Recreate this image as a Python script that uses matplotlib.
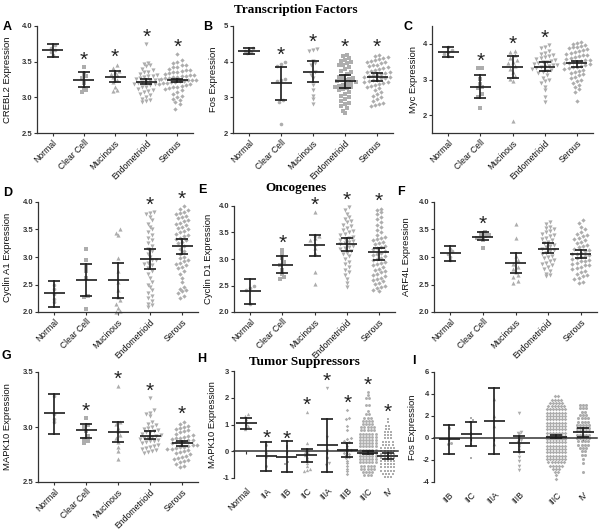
import numpy as np
import matplotlib
matplotlib.use("Agg")
import matplotlib.pyplot as plt
import matplotlib.transforms as mtrans

plt.rcParams['font.family'] = ['Liberation Sans', 'DejaVu Sans']

# ---------------- categories ----------------
histotypes = ["Normal", "Clear Cell", "Mucinous", "Endometrioid", "Serous"]
stages_h = ["Normal", "IIA", "IIB", "IIC", "IIIA", "IIIB", "IIIC", "IV"]
stages_i = ["IIB", "IIC", "IIIA", "IIIB", "IIIC", "IV"]

# ---------------- Panel A: CREBL2 ----------------
crebl2_normal = [3.73, 3.69, 3.66, 3.63, 3.59]
crebl2_clear = [3.42, 3.33, 3.30, 3.27, 3.20, 3.12, 3.10, 3.08]
crebl2_muc = [3.46, 3.41, 3.37, 3.35, 3.33, 3.31, 3.28, 3.25, 3.22, 3.15, 3.10, 3.09]
crebl2_endo = [3.75, 3.48, 3.47, 3.45, 3.44, 3.40, 3.38, 3.36, 3.35, 3.33, 3.32, 3.30, 3.30,
               3.28, 3.27, 3.26, 3.25, 3.24, 3.23, 3.22, 3.21, 3.20, 3.19, 3.18, 3.17, 3.15,
               3.14, 3.12, 3.10, 3.09, 3.07, 3.05, 3.03, 3.01, 2.98, 2.96, 2.95, 2.93]
crebl2_serous = [3.61, 3.52, 3.50, 3.48, 3.46, 3.45, 3.43, 3.42, 3.40, 3.39, 3.38, 3.37, 3.36,
                 3.35, 3.34, 3.33, 3.32, 3.31, 3.30, 3.30, 3.29, 3.28, 3.27, 3.27, 3.26, 3.25,
                 3.25, 3.24, 3.23, 3.23, 3.22, 3.21, 3.20, 3.20, 3.19, 3.18, 3.17, 3.16, 3.15,
                 3.14, 3.13, 3.12, 3.10, 3.08, 3.05, 3.02, 3.00, 2.98, 2.96, 2.93, 2.90, 2.84]
crebl2_mean = [3.66, 3.25, 3.29, 3.22, 3.24]
crebl2_lo = [3.57, 3.15, 3.22, 3.18, 3.21]
crebl2_hi = [3.75, 3.35, 3.37, 3.26, 3.26]
crebl2_sig = [0, 1, 1, 1, 1]

# ---------------- Panel B: Fos ----------------
fos_normal = [4.38, 4.34, 4.30, 4.27, 4.24]
fos_clear = [3.98, 3.93, 3.87, 3.52, 3.48, 3.45, 2.92, 2.88, 2.25]
fos_muc = [4.36, 4.34, 4.30, 4.02, 3.97, 3.90, 3.70, 3.62, 3.55, 3.35, 3.20, 3.05, 2.95, 2.80]
fos_endo = [4.20, 4.15, 4.10, 4.05, 4.02, 3.98, 3.95, 3.92, 3.90, 3.85, 3.80, 3.75, 3.70, 3.65,
            3.60, 3.58, 3.55, 3.52, 3.50, 3.48, 3.45, 3.42, 3.40, 3.38, 3.35, 3.32, 3.30, 3.28,
            3.25, 3.22, 3.20, 3.15, 3.10, 3.05, 3.00, 2.95, 2.90, 2.85, 2.80, 2.75, 2.70, 2.62, 2.55]
fos_serous = [4.20, 4.15, 4.12, 4.10, 4.08, 4.05, 4.02, 4.00, 3.98, 3.95, 3.92, 3.90, 3.88, 3.85,
              3.82, 3.80, 3.78, 3.75, 3.72, 3.70, 3.68, 3.66, 3.64, 3.62, 3.60, 3.58, 3.56, 3.55,
              3.53, 3.50, 3.48, 3.46, 3.44, 3.42, 3.40, 3.38, 3.35, 3.32, 3.30, 3.25, 3.20, 3.15,
              3.10, 3.05, 3.00, 2.95, 2.90, 2.85, 2.80, 2.78, 2.75]
fos_mean = [4.30, 3.41, 3.72, 3.46, 3.58]
fos_lo = [4.22, 2.92, 3.43, 3.27, 3.45]
fos_hi = [4.39, 3.85, 4.02, 3.62, 3.68]
fos_sig = [0, 1, 1, 1, 1]

# ---------------- Panel C: Myc ----------------
myc_normal = [3.90, 3.84, 3.78, 3.72, 3.66]
myc_clear = [3.33, 3.31, 3.02, 2.88, 2.80, 2.75, 2.58, 2.52, 2.20]
myc_muc = [3.80, 3.76, 3.70, 3.60, 3.56, 3.50, 3.45, 3.38, 3.30, 3.20, 3.10, 3.02, 2.95, 1.83]
myc_endo = [3.97, 3.92, 3.88, 3.80, 3.75, 3.72, 3.70, 3.66, 3.62, 3.60, 3.58, 3.55, 3.52, 3.50,
            3.48, 3.46, 3.44, 3.42, 3.40, 3.38, 3.36, 3.34, 3.32, 3.30, 3.28, 3.25, 3.22, 3.18,
            3.12, 3.05, 3.00, 2.95, 2.90, 2.80, 2.70, 2.50, 2.37]
myc_serous = [4.05, 4.02, 4.00, 3.97, 3.95, 3.92, 3.90, 3.88, 3.85, 3.82, 3.80, 3.78, 3.75, 3.72,
              3.70, 3.68, 3.65, 3.62, 3.60, 3.58, 3.56, 3.55, 3.53, 3.50, 3.48, 3.46, 3.45, 3.43,
              3.40, 3.38, 3.36, 3.34, 3.32, 3.30, 3.28, 3.25, 3.22, 3.18, 3.15, 3.12, 3.08, 3.05,
              3.00, 2.95, 2.90, 2.85, 2.80, 2.72, 2.65, 2.40]
myc_mean = [3.77, 2.80, 3.34, 3.36, 3.47]
myc_lo = [3.62, 2.49, 3.03, 3.25, 3.36]
myc_hi = [3.90, 3.12, 3.67, 3.48, 3.53]
myc_sig = [0, 1, 1, 1, 0]

# ---------------- Panel D: Cyclin A1 ----------------
cyca1_normal = [2.50, 2.42, 2.32, 2.24, 2.18]
cyca1_clear = [3.15, 2.95, 2.82, 2.75, 2.62, 2.30, 2.27, 2.05]
cyca1_muc = [3.50, 3.43, 3.40, 2.98, 2.75, 2.55, 2.40, 2.28, 2.22, 2.15, 2.08, 2.02, 2.00]
cyca1_endo = [3.82, 3.80, 3.78, 3.72, 3.68, 3.60, 3.55, 3.50, 3.45, 3.40, 3.35, 3.30, 3.25, 3.20,
              3.15, 3.10, 3.05, 3.00, 2.95, 2.95, 2.90, 2.88, 2.85, 2.80, 2.75, 2.70, 2.62, 2.55,
              2.50, 2.45, 2.40, 2.35, 2.30, 2.25, 2.20, 2.15, 2.12, 2.10]
cyca1_serous = [3.92, 3.88, 3.85, 3.82, 3.80, 3.78, 3.75, 3.72, 3.70, 3.68, 3.65, 3.62, 3.60,
                3.58, 3.55, 3.52, 3.50, 3.48, 3.45, 3.42, 3.40, 3.38, 3.35, 3.32, 3.30, 3.28,
                3.25, 3.20, 3.15, 3.10, 3.05, 3.00, 2.98, 2.95, 2.92, 2.90, 2.88, 2.85, 2.82,
                2.80, 2.75, 2.70, 2.62, 2.55, 2.45, 2.42, 2.40, 2.38, 2.35, 2.30, 2.25]
cyca1_mean = [2.34, 2.59, 2.59, 2.96, 3.20]
cyca1_lo = [2.10, 2.29, 2.26, 2.78, 3.05]
cyca1_hi = [2.56, 2.88, 2.90, 3.14, 3.33]
cyca1_sig = [0, 0, 0, 1, 1]

# ---------------- Panel E: Cyclin D1 ----------------
cycd1_normal = [2.50, 2.46, 2.42, 2.16]
cycd1_clear = [3.17, 3.10, 3.02, 2.95, 2.88, 2.80, 2.72, 2.66, 2.63]
cycd1_muc = [3.88, 3.46, 3.44, 3.40, 3.35, 3.28, 3.20, 3.12, 2.75, 2.52]
cycd1_endo = [3.98, 3.92, 3.85, 3.80, 3.75, 3.72, 3.70, 3.65, 3.62, 3.58, 3.55, 3.52, 3.50, 3.48,
              3.45, 3.42, 3.40, 3.38, 3.36, 3.34, 3.32, 3.30, 3.28, 3.25, 3.22, 3.20, 3.18, 3.15,
              3.12, 3.10, 3.05, 3.00, 2.95, 2.90, 2.85, 2.80, 2.75, 2.70, 2.62, 2.55, 2.48]
cycd1_serous = [3.95, 3.92, 3.88, 3.85, 3.80, 3.75, 3.70, 3.65, 3.60, 3.55, 3.50, 3.45, 3.42,
                3.40, 3.38, 3.35, 3.32, 3.30, 3.28, 3.25, 3.22, 3.20, 3.18, 3.15, 3.12, 3.10,
                3.08, 3.05, 3.02, 3.00, 2.98, 2.95, 2.92, 2.90, 2.88, 2.85, 2.82, 2.80, 2.78,
                2.75, 2.72, 2.70, 2.68, 2.65, 2.62, 2.60, 2.58, 2.55, 2.52, 2.50, 2.48, 2.45,
                2.42, 2.40]
cycd1_mean = [2.40, 2.89, 3.26, 3.28, 3.13]
cycd1_lo = [2.16, 2.74, 3.06, 3.15, 2.99]
cycd1_hi = [2.62, 3.05, 3.46, 3.40, 3.21]
cycd1_sig = [0, 1, 1, 1, 1]

# ---------------- Panel F: ARF4L ----------------
arf4l_normal = [3.15, 3.10, 3.05, 3.00, 2.95]
arf4l_clear = [3.46, 3.43, 3.40, 3.38, 3.36, 3.34, 3.31, 3.16]
arf4l_muc = [3.60, 3.35, 3.02, 2.95, 2.88, 2.82, 2.78, 2.72, 2.68, 2.64, 2.56, 2.52]
arf4l_endo = [3.64, 3.60, 3.55, 3.52, 3.50, 3.48, 3.45, 3.42, 3.40, 3.38, 3.35, 3.32, 3.30, 3.28,
              3.25, 3.22, 3.20, 3.18, 3.15, 3.13, 3.10, 3.08, 3.05, 3.02, 3.00, 2.98, 2.95, 2.92,
              2.90, 2.88, 2.85, 2.82, 2.78, 2.75, 2.70, 2.67, 2.65]
arf4l_serous = [3.68, 3.62, 3.55, 3.50, 3.45, 3.42, 3.40, 3.38, 3.35, 3.32, 3.30, 3.28, 3.25,
                3.22, 3.20, 3.18, 3.15, 3.12, 3.10, 3.08, 3.06, 3.05, 3.03, 3.02, 3.00, 2.98,
                2.96, 2.95, 2.93, 2.92, 2.90, 2.88, 2.86, 2.85, 2.82, 2.80, 2.78, 2.75, 2.72,
                2.70, 2.68, 2.65, 2.62, 2.60, 2.55, 2.52]
arf4l_mean = [3.07, 3.37, 2.90, 3.15, 3.06]
arf4l_lo = [2.93, 3.31, 2.71, 3.07, 2.99]
arf4l_hi = [3.20, 3.45, 3.08, 3.25, 3.13]
arf4l_sig = [0, 1, 0, 0, 0]

# ---------------- Panel G: MAPK10 (histotype) ----------------
mapk_normal = [3.28, 3.12, 3.07, 3.05]
mapk_clear = [3.08, 3.02, 3.00, 2.96, 2.92, 2.89, 2.87, 2.85]
mapk_muc = [3.37, 3.05, 3.03, 2.99, 2.96, 2.93, 2.90, 2.86, 2.82, 2.78, 2.71]
mapk_endo = [3.26, 3.15, 3.13, 3.12, 3.10, 3.05, 3.03, 3.02, 3.00, 2.99, 2.98, 2.97, 2.96, 2.95,
             2.95, 2.94, 2.93, 2.92, 2.91, 2.90, 2.90, 2.89, 2.88, 2.87, 2.87, 2.86, 2.85, 2.84,
             2.83, 2.82, 2.81, 2.80, 2.79, 2.78, 2.77, 2.76]
mapk_serous = [3.05, 3.03, 3.01, 3.00, 2.99, 2.98, 2.97, 2.96, 2.95, 2.94, 2.93, 2.92, 2.91,
               2.90, 2.90, 2.89, 2.88, 2.88, 2.87, 2.86, 2.86, 2.85, 2.84, 2.84, 2.83, 2.82,
               2.82, 2.81, 2.80, 2.80, 2.79, 2.78, 2.77, 2.76, 2.75, 2.74, 2.73, 2.72, 2.71,
               2.70, 2.69, 2.68, 2.66, 2.65, 2.64]
mapk_mean = [3.125, 2.97, 2.95, 2.92, 2.85]
mapk_lo = [2.94, 2.90, 2.86, 2.89, 2.83]
mapk_hi = [3.30, 3.03, 3.05, 2.96, 2.875]
mapk_sig = [0, 1, 1, 1, 1]

# ---------------- Panel H: MAPK10 by stage ----------------
h_normal = [1.40, 1.32, 1.20, 1.10, 1.02, 0.95, 0.85]
h_iia = [0.22, -0.05, -0.20, -0.55]
h_iib = [0.20, 0.12, -0.10, -0.42, -0.48]
h_iic = [1.45, 0.30, 0.05, -0.02, -0.08, -0.15, -0.20, -0.30, -0.45, -0.55, -0.65, -0.70, -0.72]
h_iiia = [2.35, 0.55, 0.05, -0.25, -0.30, -0.45, -0.50]
h_iiib = [1.55, 1.25, 1.20, 0.95, 0.80, 0.50, 0.45, 0.40, 0.35, 0.30, 0.20, 0.10, 0.05, 0.00,
          -0.05, -0.10, -0.15, -0.20, -0.25, -0.35, -0.45, -0.55, -0.65, -0.75, -0.85]
h_iiic_levels = [2.22, 2.10, 1.98, 1.74, 1.50, 1.38, 1.26, 1.14, 1.02, 0.90, 0.78, 0.66, 0.54,
                 0.42, 0.30, 0.18, 0.06, -0.06, -0.18, -0.30, -0.42, -0.54, -0.66, -0.78, -0.90]
h_iiic_counts = [1, 1, 2, 2, 1, 2, 3, 4, 4, 5, 5, 6, 6, 6, 6, 6, 6, 6, 6, 6, 6, 5, 5, 4, 3]
h_iv_levels = [1.20, 1.08, 0.96, 0.84, 0.72, 0.60, 0.48, 0.36, 0.24, 0.12, 0.00, -0.12, -0.24,
               -0.36, -0.48, -0.60, -0.72, -0.84, -0.96]
h_iv_counts = [1, 1, 2, 2, 3, 3, 3, 4, 4, 5, 5, 5, 5, 5, 5, 5, 5, 4, 3]
h_mean = [1.07, -0.17, -0.20, -0.15, 0.23, 0.05, -0.05, -0.17]
h_lo = [0.85, -0.72, -0.78, -0.42, -0.78, -0.22, -0.11, -0.29]
h_hi = [1.23, 0.36, 0.40, 0.08, 1.19, 0.30, 0.02, -0.07]
h_sig = [0, 1, 1, 1, 1, 1, 1, 1]

# ---------------- Panel I: Fos by stage ----------------
i_iib = [0.90, -0.45, -0.55]
i_iic = [1.85, 1.65, 1.50, 0.50, 0.25, 0.00, -0.50, -1.80]
i_iiia = [3.55, 2.00, 1.05, -0.55]
i_iiib = [2.30, 0.55, 0.45, 0.35, 0.10, -0.20, -0.40, -0.60, -0.80, -1.10, -1.40, -1.70,
          -2.10, -2.50, -2.95]
i_iiic_levels = [3.8, 3.5, 3.2, 2.9, 2.6, 2.3, 2.0, 1.7, 1.4, 1.1, 0.8, 0.5, 0.2, -0.1, -0.4,
                 -0.7, -1.0, -1.3, -1.6, -1.9, -2.2, -2.5, -2.8, -3.1, -3.4, -3.7]
i_iiic_counts = [2, 4, 5, 6, 7, 7, 7, 7, 7, 7, 7, 7, 7, 7, 7, 7, 7, 7, 7, 7, 6, 5, 3, 2, 1, 1]
i_iv_levels = [3.0, 2.7, 2.4, 2.1, 1.8, 1.5, 1.2, 0.9, 0.6, 0.3, 0.0, -0.3, -0.6, -0.9, -1.2,
               -1.5, -1.9, -2.3, -3.1]
i_iv_counts = [3, 3, 2, 3, 4, 4, 5, 5, 5, 5, 5, 4, 4, 3, 2, 2, 1, 1, 1]
i_mean = [-0.07, 0.36, 1.55, -0.49, 0.12, 0.57]
i_lo = [-1.41, -0.74, -1.47, -1.26, -0.04, 0.12]
i_hi = [1.18, 1.49, 4.54, 0.21, 0.27, 0.88]
i_sig = [0, 0, 0, 0, 0, 0]

# ---------------- styling ----------------
PT_GRAY = '#adadad'
BAR_COL = '#1c1c1c'
SPINE_COL = '#333333'
MEAN_PX = 21
CAP_PX = 12
XLAB_FS = 6.2
msize = {'o': 2.6, 's': 2.4, '^': 3.0, 'v': 3.0, 'D': 2.2}

fig = plt.figure(figsize=(6, 5.3), dpi=100)
FW, FH = 600.0, 530.0


def make_ax(l, r, t, b):
    return fig.add_axes([l / FW, 1 - b / FH, (r - l) / FW, (b - t) / FH])


def swarm_offsets(vals, ypx_per_unit, row_px, col_px):
    vals = np.asarray(vals, float)
    rows = np.round(vals * ypx_per_unit / row_px).astype(int)
    offs = np.zeros(len(vals))
    for r in np.unique(rows):
        idx = np.where(rows == r)[0]
        idx = idx[np.argsort(vals[idx])]
        n = len(idx)
        offs[idx] = (np.arange(n) - (n - 1) / 2.0) * col_px
    return offs


def panel(rect, groups, means, los, his, sig, markers, xpos, xlim, ylim, yticks, ylabel,
          xlabels, zero_axis=False, ylab_px=None, yfmt="{:.1f}", row_px=5.0, col_px=4.2,
          mscale=1.0):
    l, r, t, b = rect
    ax = make_ax(l, r, t, b)
    ax.set_xlim(*xlim)
    ax.set_ylim(*ylim)
    xs_px = (r - l) / (xlim[1] - xlim[0])
    ys_px = (b - t) / (ylim[1] - ylim[0])
    for k, vals in enumerate(groups):
        vals = np.asarray(vals, float)
        offs = swarm_offsets(vals, ys_px, row_px, col_px) / xs_px
        m = markers[k]
        ax.scatter(xpos[k] + offs, vals, s=(msize[m] * mscale) ** 2, marker=m, color=PT_GRAY,
                   linewidths=0, zorder=2, clip_on=False)
        hw = MEAN_PX / 2 / xs_px
        cw = CAP_PX / 2 / xs_px
        ax.plot([xpos[k] - hw, xpos[k] + hw], [means[k], means[k]], color=BAR_COL, lw=1.2,
                zorder=3, solid_capstyle='butt')
        ax.plot([xpos[k], xpos[k]], [los[k], his[k]], color=BAR_COL, lw=1.2, zorder=3)
        for yv in (los[k], his[k]):
            ax.plot([xpos[k] - cw, xpos[k] + cw], [yv, yv], color=BAR_COL, lw=1.2, zorder=3,
                    solid_capstyle='butt')
        if sig[k]:
            ax.annotate('*', (xpos[k], vals.max()), xytext=(0, 1.0), textcoords='offset points',
                        ha='center', va='baseline', fontsize=15, color='#222222',
                        annotation_clip=False)
    for s in ('top', 'right'):
        ax.spines[s].set_visible(False)
    for s in ('left', 'bottom'):
        ax.spines[s].set_linewidth(0.9)
        ax.spines[s].set_color(SPINE_COL)
    ax.set_yticks(yticks)
    ax.set_yticklabels([yfmt.format(v) for v in yticks], fontsize=5.5, fontweight='bold')
    ax.tick_params(axis='y', direction='out', length=2.5, width=0.8, pad=1, colors=SPINE_COL)
    ax.tick_params(axis='x', direction='out', length=2.5, width=0.8, colors=SPINE_COL)
    ax.set_xticks(xpos)
    if zero_axis:
        ax.spines['bottom'].set_position(('data', 0))
        ax.spines['bottom'].set_linewidth(1.1)
        ax.tick_params(axis='x', labelbottom=False)
        tr = mtrans.blended_transform_factory(ax.transData, ax.transAxes) + \
            mtrans.ScaledTranslation(0, -6 / 72.0, fig.dpi_scale_trans)
        for xp, lab in zip(xpos, xlabels):
            ax.text(xp, 0, lab, transform=tr, rotation=45, ha='right', va='top',
                    rotation_mode='anchor', fontsize=XLAB_FS, color='#111111')
    else:
        ax.set_xticklabels(xlabels, rotation=45, ha='right', rotation_mode='anchor',
                           fontsize=XLAB_FS, color='#111111')
        ax.tick_params(axis='x', pad=1.5)
    ax.set_ylabel(ylabel, fontsize=6.8, color='#111111')
    if ylab_px is not None:
        ax.yaxis.set_label_coords((ylab_px - l) / (r - l), 0.5)
    return ax


mk5 = ['o', 's', '^', 'v', 'D']
x5 = list(range(5))
xl5 = (-0.5, 4.5)

panel((37, 193, 26, 133), [crebl2_normal, crebl2_clear, crebl2_muc, crebl2_endo, crebl2_serous],
      crebl2_mean, crebl2_lo, crebl2_hi, crebl2_sig, mk5, x5, xl5, (2.5, 4.0),
      [2.5, 3.0, 3.5, 4.0], "CREBL2 Expression", histotypes, ylab_px=12)
panel((233, 393, 26, 133), [fos_normal, fos_clear, fos_muc, fos_endo, fos_serous],
      fos_mean, fos_lo, fos_hi, fos_sig, ['o', 'o', 'v', 's', 'D'], x5, xl5, (2, 5),
      [2, 3, 4, 5], "Fos Expression", histotypes, ylab_px=218, yfmt="{:.0f}")
panel((432, 593, 26, 133), [myc_normal, myc_clear, myc_muc, myc_endo, myc_serous],
      myc_mean, myc_lo, myc_hi, myc_sig, mk5, x5, xl5, (1.5, 4.5),
      [2, 3, 4], "Myc Expression", histotypes, ylab_px=418, yfmt="{:.0f}")
panel((38, 198, 202, 312), [cyca1_normal, cyca1_clear, cyca1_muc, cyca1_endo, cyca1_serous],
      cyca1_mean, cyca1_lo, cyca1_hi, cyca1_sig, mk5, x5, xl5, (2.0, 4.0),
      [2.0, 2.5, 3.0, 3.5, 4.0], "Cyclin A1 Expression", histotypes, ylab_px=12)
panel((234, 395, 206, 312), [cycd1_normal, cycd1_clear, cycd1_muc, cycd1_endo, cycd1_serous],
      cycd1_mean, cycd1_lo, cycd1_hi, cycd1_sig, mk5, x5, xl5, (2.0, 4.0),
      [2.0, 2.5, 3.0, 3.5, 4.0], "Cyclin D1 Expression", histotypes, ylab_px=213)
panel((434, 597, 202, 312), [arf4l_normal, arf4l_clear, arf4l_muc, arf4l_endo, arf4l_serous],
      arf4l_mean, arf4l_lo, arf4l_hi, arf4l_sig, mk5, x5, xl5, (2.0, 4.0),
      [2.0, 2.5, 3.0, 3.5, 4.0], "ARF4L Expression", histotypes, ylab_px=411)
panel((38, 198, 372, 482), [mapk_normal, mapk_clear, mapk_muc, mapk_endo, mapk_serous],
      mapk_mean, mapk_lo, mapk_hi, mapk_sig, mk5, x5, xl5, (2.5, 3.5),
      [2.5, 3.0, 3.5], "MAPK10 Expression", histotypes, ylab_px=12)

h_groups = [h_normal, h_iia, h_iib, h_iic, h_iiia, h_iiib,
            np.repeat(h_iiic_levels, h_iiic_counts), np.repeat(h_iv_levels, h_iv_counts)]
panel((234, 398, 371, 478), h_groups, h_mean, h_lo, h_hi, h_sig,
      ['^', 'o', 's', '^', 'v', 'D', 'o', 's'], list(range(8)), (-0.6, 7.5), (-1, 3),
      [-1, 0, 1, 2, 3], "MAPK10 Expression", stages_h, zero_axis=True, ylab_px=217,
      yfmt="{:.0f}", row_px=3.0, col_px=3.2, mscale=0.8)

i_groups = [i_iib, i_iic, i_iiia, i_iiib,
            np.repeat(i_iiic_levels, i_iiic_counts), np.repeat(i_iv_levels, i_iv_counts)]
i_xpos = [0, 0.92, 1.88, 2.92, 4.46, 5.58]
panel((434, 597, 372, 482), i_groups, i_mean, i_lo, i_hi, i_sig,
      ['o', 's', '^', 'v', 'D', 'o'], i_xpos, (-0.63, 6.16), (-4, 6),
      [-4, -2, 0, 2, 4, 6], "Fos Expression", stages_i, zero_axis=True, ylab_px=417,
      yfmt="{:.0f}", row_px=3.0, col_px=3.1, mscale=0.85)

# panel letters
letters = [("A", 3, 21), ("B", 203, 21), ("C", 404, 21), ("D", 3, 187), ("E", 198, 184),
           ("F", 397, 186), ("G", 2, 350), ("H", 197, 353), ("I", 412, 355)]
for lab, xp, yp in letters:
    fig.text(xp / FW, 1 - yp / FH, lab, fontsize=9, fontweight='bold', ha='left', va='top')

# section titles
titles = [("Transcription Factors", 296, 10), ("Oncogenes", 296, 188),
          ("Tumor Suppressors", 304, 362)]
for lab, xp, yp in titles:
    fig.text(xp / FW, 1 - yp / FH, lab, fontsize=9.5, fontweight='bold',
             family=['Liberation Serif', 'DejaVu Serif'], ha='center', va='center')

fig.savefig("out.png", dpi=100)
